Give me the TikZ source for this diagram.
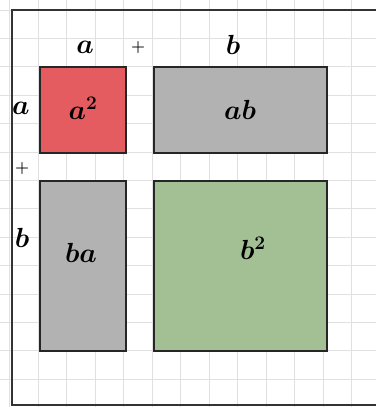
\documentclass[tikz,border=0pt]{standalone}
\usepackage{amsmath}
\begin{document}
\begin{tikzpicture}[x=0.75pt,y=-0.75pt,
  cell/.style={draw=black!85,line width=1.3pt,inner sep=0pt,anchor=north west},
  lbl/.style={font=\huge\boldmath,inner sep=0pt},
  olbl/.style={font=\huge\boldmath,inner sep=0pt},
  plus/.style={font=\large\boldmath,inner sep=0pt},
  frame/.style={draw=black!80,line width=1.3pt}]
\definecolor{redfill}{RGB}{228,92,96}
\definecolor{grayfill}{RGB}{178,178,178}
\definecolor{greenfill}{RGB}{163,192,148}
\useasboundingbox (0,0) rectangle (376,407);
\fill[white] (0,0) rectangle (376,407);
% grid
\foreach \i in {0,...,12} {\draw[black!12,line width=0.5pt] (9.5+28.5*\i,0) -- (9.5+28.5*\i,407);}
\foreach \j in {0,...,14} {\draw[black!12,line width=0.5pt] (0,10+28.4*\j) -- (376,10+28.4*\j);}
% frame
\coordinate (ftr) at (376,10);
\coordinate (ftl) at (12,10);
\coordinate (fbl) at (12,405);
\coordinate (fbr) at (376,405);
\draw[frame] (ftr) -- (ftl) -- (fbl) -- (fbr);
% rectangles
\node[cell,fill=redfill,minimum width=86*0.75pt,minimum height=86*0.75pt] (asq) at (39,66) {};
\node[cell,fill=grayfill,minimum width=173*0.75pt,minimum height=86*0.75pt] (ab) at (153,66) {};
\node[cell,fill=grayfill,minimum width=86*0.75pt,minimum height=170*0.75pt] (ba) at (39,180) {};
\node[cell,fill=greenfill,minimum width=173*0.75pt,minimum height=170*0.75pt] (bsq) at (153,180) {};
% inner labels
\node[lbl] (tasq) at (83,108) {$a^2$};
\node[lbl] (tab) at (240,110) {$ab$};
\node[lbl] (tba) at (81,253) {$ba$};
\node[lbl] (tbsq) at (253,248) {$b^2$};
% outer labels
\node[olbl] (ta) at (85,47) {$a$};
\node[plus] (tp1) at (138,47) {$+$};
\node[olbl] (tb) at (233,45) {$b$};
\node[olbl] (la) at (21,108) {$a$};
\node[plus] (lp) at (22,168) {$+$};
\node[olbl] (lb) at (22,238) {$b$};
\end{tikzpicture}
\end{document}
